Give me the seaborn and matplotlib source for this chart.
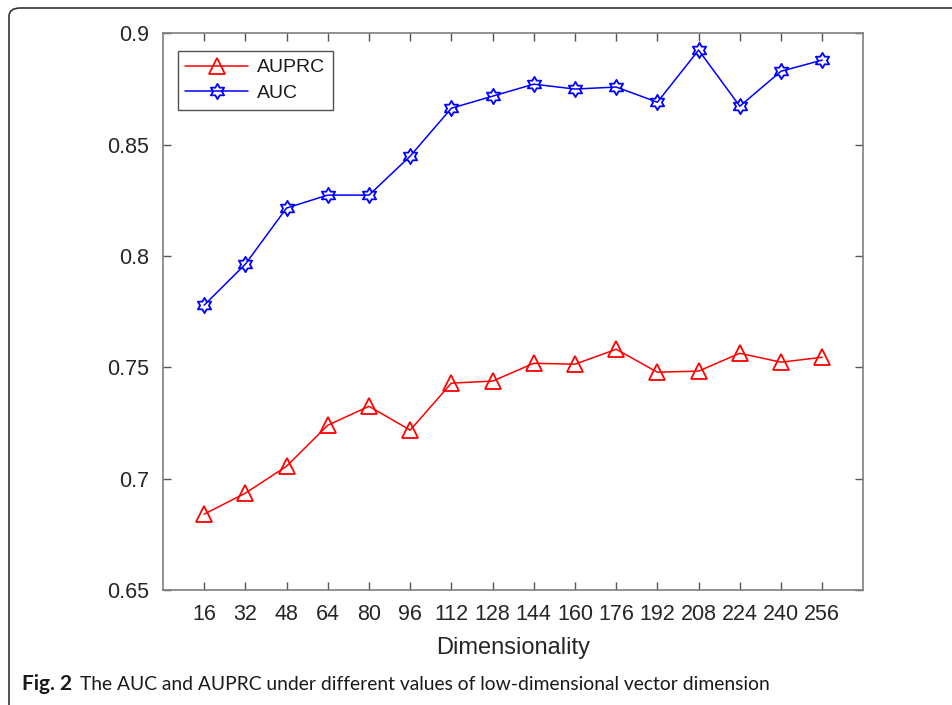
import numpy as np
import pandas as pd
import matplotlib
matplotlib.use("Agg")
import matplotlib.pyplot as plt
from matplotlib.path import Path
from matplotlib.patches import FancyBboxPatch
import seaborn as sns

dims = [16, 32, 48, 64, 80, 96, 112, 128, 144, 160, 176, 192, 208, 224, 240, 256]
auprc = [0.6841, 0.6935, 0.7056, 0.7240, 0.7325, 0.7218, 0.7429, 0.7438,
         0.7518, 0.7514, 0.7581, 0.7478, 0.7483, 0.7563, 0.7523, 0.7545]
auc = [0.7779, 0.7963, 0.8215, 0.8273, 0.8273, 0.8448, 0.8663, 0.8717,
       0.8771, 0.8749, 0.8758, 0.8690, 0.8924, 0.8672, 0.8829, 0.8879]
yticks = [0.65, 0.7, 0.75, 0.8, 0.85, 0.9]
ytick_labels = ["0.65", "0.7", "0.75", "0.8", "0.85", "0.9"]

df_prc = pd.DataFrame({"dim": dims, "value": auprc})
df_auc = pd.DataFrame({"dim": dims, "value": auc})

sns.set_style("white")
plt.rcParams['font.family'] = ['Liberation Sans', 'DejaVu Sans']

# six-pointed star like matlab's hexagram
ang_out = np.deg2rad(90 + 60 * np.arange(6))
ang_in = ang_out + np.deg2rad(30)
verts = []
for a, b in zip(ang_out, ang_in):
    verts.append((np.cos(a), np.sin(a)))
    verts.append((np.cos(b) / np.sqrt(3), np.sin(b) / np.sqrt(3)))
verts.append(verts[0])
hexagram = Path(verts, closed=True)

fig = plt.figure(figsize=(9.53, 7.05), dpi=100)
ax = fig.add_axes([0.171, 0.163, 0.735, 0.790])

sns.lineplot(data=df_prc, x="dim", y="value", ax=ax, color="#ff0000",
             marker="^", markersize=12, markerfacecolor="none",
             markeredgecolor="#ff0000", markeredgewidth=1.3, linewidth=1.1,
             label="AUPRC")
sns.lineplot(data=df_auc, x="dim", y="value", ax=ax, color="#0000ff",
             marker=hexagram, markersize=11, markerfacecolor="none",
             markeredgecolor="#0000ff", markeredgewidth=1.3, linewidth=1.1,
             label="AUC")

ax.set_xlim(0, 272)
ax.set_ylim(0.65, 0.9)
ax.set_xticks(dims)
ax.set_xticklabels([str(d) for d in dims])
ax.set_yticks(yticks)
ax.set_yticklabels(ytick_labels)
ax.set_xlabel("Dimensionality", fontsize=17, color="#262626", labelpad=9)
ax.set_ylabel("")
ax.tick_params(axis="both", direction="in", length=6, width=1, color="#555555",
               labelsize=15.5, labelcolor="#262626", top=True, right=True,
               bottom=True, left=True, pad=10)
for s in ax.spines.values():
    s.set_visible(True)
    s.set_color("#7f7f7f")
    s.set_linewidth(1.2)

leg = ax.legend(loc="upper left", bbox_to_anchor=(0.021, 0.968), borderaxespad=0,
                fontsize=14, handlelength=3.2, fancybox=False, frameon=True,
                borderpad=0.4, labelspacing=0.4, handletextpad=0.5)
leg.get_frame().set_edgecolor("#262626")
leg.get_frame().set_linewidth(1.0)
for t in leg.get_texts():
    t.set_color("#1a1a1a")

# journal figure frame
frame = FancyBboxPatch((9 / 953, -0.05), 1.1, 1 - 8 / 705 + 0.05,
                       boxstyle="round,pad=0,rounding_size=0.012",
                       transform=fig.transFigure, fill=False,
                       edgecolor="#333333", linewidth=1.2, clip_on=False)
fig.patches.append(frame)

cap_font = ["Lato", "DejaVu Sans"]
t1 = fig.text(22 / 953, 1 - 690 / 705, "Fig. 2", fontsize=15, fontweight="bold",
              family=cap_font, va="baseline", color="#1a1a1a")
t2 = fig.text(80 / 953, 1 - 690 / 705,
              "The AUC and AUPRC under different values of low-dimensional vector dimension",
              fontsize=14, family=cap_font, va="baseline", color="#1a1a1a")
fig.canvas.draw()
w = t2.get_window_extent().width
t2.set_fontsize(14 * (773 - 80) / w)

fig.savefig("out.png", dpi=100)
